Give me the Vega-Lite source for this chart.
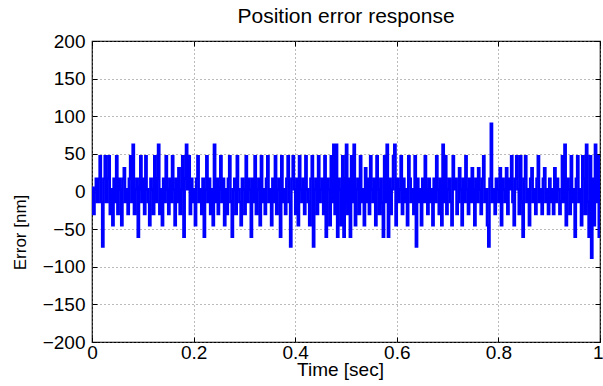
{
"$schema": "https://vega.github.io/schema/vega-lite/v6.json",
"width": 508, "height": 301,
"autosize": "none",
"padding": {"left": 92, "top": 41, "right": 3, "bottom": 44},
"background": "white",
"title": {"text": "Position error response", "font": "Liberation Sans", "fontSize": 21, "fontWeight": "normal", "color": "black", "offset": 5},
"config": {
  "view": {"stroke": "black", "strokeWidth": 1.2},
  "axis": {"labelFont": "Liberation Sans", "labelFontSize": 19, "labelColor": "black", "titleFont": "Liberation Sans", "titleFontSize": 19, "titleFontWeight": "normal", "titleColor": "black", "domain": false, "tickColor": "black", "tickSize": -5, "gridColor": "#777777", "gridDash": [1, 3], "gridWidth": 1, "gridOpacity": 1}
},
"data": {"values": [
{"t":0,"e":5},{"t":0.0025,"e":-30},{"t":0.005,"e":3},{"t":0.0075,"e":17},{"t":0.01,"e":-14},{"t":0.0125,"e":17},{"t":0.015,"e":47},{"t":0.0175,"e":-14},{"t":0.02,"e":-73},{"t":0.0225,"e":17},
{"t":0.025,"e":47},{"t":0.0275,"e":-14},{"t":0.03,"e":17},{"t":0.0325,"e":47},{"t":0.035,"e":-30},{"t":0.0375,"e":3},{"t":0.04,"e":-45},{"t":0.0425,"e":17},{"t":0.045,"e":-14},{"t":0.0475,"e":47},
{"t":0.05,"e":-30},{"t":0.0525,"e":17},{"t":0.055,"e":3},{"t":0.0575,"e":-45},{"t":0.06,"e":17},{"t":0.0625,"e":31},{"t":0.065,"e":-14},{"t":0.0675,"e":3},{"t":0.07,"e":-30},{"t":0.0725,"e":17},
{"t":0.075,"e":47},{"t":0.0775,"e":-14},{"t":0.08,"e":62},{"t":0.0825,"e":-30},{"t":0.085,"e":3},{"t":0.0875,"e":17},{"t":0.09,"e":-60},{"t":0.0925,"e":3},{"t":0.095,"e":47},{"t":0.0975,"e":-14},
{"t":0.1,"e":17},{"t":0.1025,"e":-30},{"t":0.105,"e":47},{"t":0.1075,"e":3},{"t":0.11,"e":-14},{"t":0.1125,"e":-45},{"t":0.115,"e":17},{"t":0.1175,"e":3},{"t":0.12,"e":-30},{"t":0.1225,"e":47},
{"t":0.125,"e":-14},{"t":0.1275,"e":17},{"t":0.13,"e":62},{"t":0.1325,"e":-30},{"t":0.135,"e":3},{"t":0.1375,"e":-45},{"t":0.14,"e":17},{"t":0.1425,"e":-14},{"t":0.145,"e":47},{"t":0.1475,"e":3},
{"t":0.15,"e":-30},{"t":0.1525,"e":17},{"t":0.155,"e":-14},{"t":0.1575,"e":47},{"t":0.16,"e":3},{"t":0.1625,"e":-45},{"t":0.165,"e":17},{"t":0.1675,"e":-14},{"t":0.17,"e":31},{"t":0.1725,"e":-30},
{"t":0.175,"e":3},{"t":0.1775,"e":47},{"t":0.18,"e":-60},{"t":0.1825,"e":17},{"t":0.185,"e":62},{"t":0.1875,"e":3},{"t":0.19,"e":47},{"t":0.1925,"e":-30},{"t":0.195,"e":17},{"t":0.1975,"e":-14},
{"t":0.2,"e":3},{"t":0.2025,"e":-45},{"t":0.205,"e":17},{"t":0.2075,"e":47},{"t":0.21,"e":-14},{"t":0.2125,"e":3},{"t":0.215,"e":-30},{"t":0.2175,"e":17},{"t":0.22,"e":-60},{"t":0.2225,"e":3},
{"t":0.225,"e":47},{"t":0.2275,"e":-14},{"t":0.23,"e":17},{"t":0.2325,"e":-30},{"t":0.235,"e":3},{"t":0.2375,"e":-45},{"t":0.24,"e":62},{"t":0.2425,"e":-14},{"t":0.245,"e":17},{"t":0.2475,"e":-30},
{"t":0.25,"e":3},{"t":0.2525,"e":47},{"t":0.255,"e":-14},{"t":0.2575,"e":17},{"t":0.26,"e":-45},{"t":0.2625,"e":3},{"t":0.265,"e":-30},{"t":0.2675,"e":17},{"t":0.27,"e":47},{"t":0.2725,"e":-14},
{"t":0.275,"e":-60},{"t":0.2775,"e":3},{"t":0.28,"e":17},{"t":0.2825,"e":-30},{"t":0.285,"e":47},{"t":0.2875,"e":3},{"t":0.29,"e":-14},{"t":0.2925,"e":-45},{"t":0.295,"e":17},{"t":0.2975,"e":3},
{"t":0.3,"e":-30},{"t":0.3025,"e":47},{"t":0.305,"e":-14},{"t":0.3075,"e":17},{"t":0.31,"e":3},{"t":0.3125,"e":-60},{"t":0.315,"e":17},{"t":0.3175,"e":-14},{"t":0.32,"e":47},{"t":0.3225,"e":-30},
{"t":0.325,"e":3},{"t":0.3275,"e":17},{"t":0.33,"e":-45},{"t":0.3325,"e":47},{"t":0.335,"e":-14},{"t":0.3375,"e":3},{"t":0.34,"e":-30},{"t":0.3425,"e":17},{"t":0.345,"e":47},{"t":0.3475,"e":-14},
{"t":0.35,"e":3},{"t":0.3525,"e":-45},{"t":0.355,"e":17},{"t":0.3575,"e":-14},{"t":0.36,"e":47},{"t":0.3625,"e":-30},{"t":0.365,"e":3},{"t":0.3675,"e":17},{"t":0.37,"e":-60},{"t":0.3725,"e":47},
{"t":0.375,"e":-14},{"t":0.3775,"e":3},{"t":0.38,"e":-30},{"t":0.3825,"e":17},{"t":0.385,"e":47},{"t":0.3875,"e":-14},{"t":0.39,"e":-73},{"t":0.3925,"e":17},{"t":0.395,"e":47},{"t":0.3975,"e":3},
{"t":0.4,"e":-30},{"t":0.4025,"e":17},{"t":0.405,"e":-45},{"t":0.4075,"e":47},{"t":0.41,"e":3},{"t":0.4125,"e":-14},{"t":0.415,"e":17},{"t":0.4175,"e":-30},{"t":0.42,"e":47},{"t":0.4225,"e":3},
{"t":0.425,"e":-14},{"t":0.4275,"e":-45},{"t":0.43,"e":17},{"t":0.4325,"e":47},{"t":0.435,"e":-73},{"t":0.4375,"e":3},{"t":0.44,"e":17},{"t":0.4425,"e":-30},{"t":0.445,"e":47},{"t":0.4475,"e":-14},
{"t":0.45,"e":3},{"t":0.4525,"e":17},{"t":0.455,"e":-30},{"t":0.4575,"e":47},{"t":0.46,"e":-60},{"t":0.4625,"e":17},{"t":0.465,"e":3},{"t":0.4675,"e":-45},{"t":0.47,"e":47},{"t":0.4725,"e":-14},
{"t":0.475,"e":62},{"t":0.4775,"e":-30},{"t":0.48,"e":62},{"t":0.4825,"e":-60},{"t":0.485,"e":17},{"t":0.4875,"e":3},{"t":0.49,"e":-45},{"t":0.4925,"e":47},{"t":0.495,"e":-60},{"t":0.4975,"e":17},
{"t":0.5,"e":62},{"t":0.5025,"e":-30},{"t":0.505,"e":17},{"t":0.5075,"e":-60},{"t":0.51,"e":47},{"t":0.5125,"e":-14},{"t":0.515,"e":62},{"t":0.5175,"e":-45},{"t":0.52,"e":3},{"t":0.5225,"e":17},
{"t":0.525,"e":-30},{"t":0.5275,"e":47},{"t":0.53,"e":-14},{"t":0.5325,"e":3},{"t":0.535,"e":-45},{"t":0.5375,"e":31},{"t":0.54,"e":-14},{"t":0.5425,"e":17},{"t":0.545,"e":-30},{"t":0.5475,"e":47},
{"t":0.55,"e":3},{"t":0.5525,"e":-14},{"t":0.555,"e":17},{"t":0.5575,"e":-45},{"t":0.56,"e":47},{"t":0.5625,"e":3},{"t":0.565,"e":-30},{"t":0.5675,"e":17},{"t":0.57,"e":-14},{"t":0.5725,"e":-60},
{"t":0.575,"e":47},{"t":0.5775,"e":-14},{"t":0.58,"e":62},{"t":0.5825,"e":-60},{"t":0.585,"e":17},{"t":0.5875,"e":-30},{"t":0.59,"e":3},{"t":0.5925,"e":47},{"t":0.595,"e":62},{"t":0.5975,"e":-45},
{"t":0.6,"e":17},{"t":0.6025,"e":-14},{"t":0.605,"e":3},{"t":0.6075,"e":47},{"t":0.61,"e":-30},{"t":0.6125,"e":17},{"t":0.615,"e":-14},{"t":0.6175,"e":3},{"t":0.62,"e":-45},{"t":0.6225,"e":47},
{"t":0.625,"e":17},{"t":0.6275,"e":-14},{"t":0.63,"e":3},{"t":0.6325,"e":-30},{"t":0.635,"e":47},{"t":0.6375,"e":-73},{"t":0.64,"e":17},{"t":0.6425,"e":-14},{"t":0.645,"e":3},{"t":0.6475,"e":-45},
{"t":0.65,"e":17},{"t":0.6525,"e":-14},{"t":0.655,"e":47},{"t":0.6575,"e":3},{"t":0.66,"e":-30},{"t":0.6625,"e":17},{"t":0.665,"e":-14},{"t":0.6675,"e":3},{"t":0.67,"e":-45},{"t":0.6725,"e":17},
{"t":0.675,"e":-14},{"t":0.6775,"e":47},{"t":0.68,"e":3},{"t":0.6825,"e":-30},{"t":0.685,"e":17},{"t":0.6875,"e":-45},{"t":0.69,"e":62},{"t":0.6925,"e":-14},{"t":0.695,"e":47},{"t":0.6975,"e":-30},
{"t":0.7,"e":3},{"t":0.7025,"e":17},{"t":0.705,"e":-14},{"t":0.7075,"e":-45},{"t":0.71,"e":47},{"t":0.7125,"e":3},{"t":0.715,"e":17},{"t":0.7175,"e":-30},{"t":0.72,"e":-14},{"t":0.7225,"e":31},
{"t":0.725,"e":3},{"t":0.7275,"e":-45},{"t":0.73,"e":17},{"t":0.7325,"e":-14},{"t":0.735,"e":47},{"t":0.7375,"e":3},{"t":0.74,"e":-30},{"t":0.7425,"e":17},{"t":0.745,"e":-14},{"t":0.7475,"e":31},
{"t":0.75,"e":3},{"t":0.7525,"e":-45},{"t":0.755,"e":17},{"t":0.7575,"e":-14},{"t":0.76,"e":31},{"t":0.7625,"e":3},{"t":0.765,"e":-30},{"t":0.7675,"e":17},{"t":0.77,"e":47},{"t":0.7725,"e":-14},
{"t":0.775,"e":3},{"t":0.7775,"e":-45},{"t":0.78,"e":-73},{"t":0.7825,"e":17},{"t":0.785,"e":90},{"t":0.7875,"e":-14},{"t":0.79,"e":3},{"t":0.7925,"e":-30},{"t":0.795,"e":17},{"t":0.7975,"e":3},
{"t":0.8,"e":-14},{"t":0.8025,"e":31},{"t":0.805,"e":-45},{"t":0.8075,"e":17},{"t":0.81,"e":3},{"t":0.8125,"e":-14},{"t":0.815,"e":31},{"t":0.8175,"e":-30},{"t":0.82,"e":17},{"t":0.8225,"e":3},
{"t":0.825,"e":47},{"t":0.8275,"e":-14},{"t":0.83,"e":-45},{"t":0.8325,"e":17},{"t":0.835,"e":47},{"t":0.8375,"e":3},{"t":0.84,"e":-30},{"t":0.8425,"e":47},{"t":0.845,"e":-14},{"t":0.8475,"e":-60},
{"t":0.85,"e":17},{"t":0.8525,"e":47},{"t":0.855,"e":-14},{"t":0.8575,"e":3},{"t":0.86,"e":-45},{"t":0.8625,"e":17},{"t":0.865,"e":31},{"t":0.8675,"e":-14},{"t":0.87,"e":3},{"t":0.8725,"e":-30},
{"t":0.875,"e":17},{"t":0.8775,"e":47},{"t":0.88,"e":-14},{"t":0.8825,"e":3},{"t":0.885,"e":-30},{"t":0.8875,"e":17},{"t":0.89,"e":31},{"t":0.8925,"e":-14},{"t":0.895,"e":3},{"t":0.8975,"e":-30},
{"t":0.9,"e":17},{"t":0.9025,"e":-14},{"t":0.905,"e":3},{"t":0.9075,"e":-30},{"t":0.91,"e":31},{"t":0.9125,"e":-14},{"t":0.915,"e":17},{"t":0.9175,"e":3},{"t":0.92,"e":-30},{"t":0.9225,"e":-14},
{"t":0.925,"e":47},{"t":0.9275,"e":-14},{"t":0.93,"e":62},{"t":0.9325,"e":-45},{"t":0.935,"e":17},{"t":0.9375,"e":3},{"t":0.94,"e":-30},{"t":0.9425,"e":47},{"t":0.945,"e":-14},{"t":0.9475,"e":3},
{"t":0.95,"e":-60},{"t":0.9525,"e":17},{"t":0.955,"e":47},{"t":0.9575,"e":-14},{"t":0.96,"e":3},{"t":0.9625,"e":-45},{"t":0.965,"e":47},{"t":0.9675,"e":17},{"t":0.97,"e":-30},{"t":0.9725,"e":62},
{"t":0.975,"e":-14},{"t":0.9775,"e":-60},{"t":0.98,"e":47},{"t":0.9825,"e":-88},{"t":0.985,"e":17},{"t":0.9875,"e":-45},{"t":0.99,"e":62},{"t":0.9925,"e":-14},{"t":0.995,"e":47},{"t":0.9975,"e":-60},
{"t":1,"e":3}
]},
"layer": [
  {
    "mark": {"type": "line", "color": "#0000FF", "strokeWidth": 2.5, "clip": true, "interpolate": "step-after"},
    "encoding": {
      "x": {"field": "t", "type": "quantitative", "scale": {"domain": [0, 1], "nice": false, "zero": false},
            "axis": {"title": "Time [sec]", "values": [0, 0.2, 0.4, 0.6, 0.8, 1], "format": "~g", "grid": true, "labelPadding": 6, "titleY": 18, "titleX": 248, "titleBaseline": "top", "labelFlush": false,
                     "labelAlign": {"condition": {"test": "datum.value == 1", "value": "right"}, "value": "center"},
                     "labelOffset": {"condition": {"test": "datum.value == 1", "value": 3}, "value": 0}}},
      "y": {"field": "e", "type": "quantitative", "scale": {"domain": [-200, 200], "nice": false},
            "axis": {"title": "Error [nm]", "titleFontSize": 17, "values": [-200, -150, -100, -50, 0, 50, 100, 150, 200], "grid": true, "labelPadding": 12, "titleX": -67, "titleY": 191, "titleBaseline": "alphabetic"}}
    }
  },
  {
    "mark": {"type": "line", "strokeOpacity": 0},
    "encoding": {
      "x": {"field": "t", "type": "quantitative", "axis": {"orient": "top", "labels": false, "title": null, "grid": false, "values": [0, 0.2, 0.4, 0.6, 0.8, 1]}},
      "y": {"field": "e", "type": "quantitative", "axis": {"orient": "right", "labels": false, "title": null, "grid": false, "values": [-200, -150, -100, -50, 0, 50, 100, 150, 200]}}
    }
  }
],
"resolve": {"axis": {"x": "independent", "y": "independent"}}
}
